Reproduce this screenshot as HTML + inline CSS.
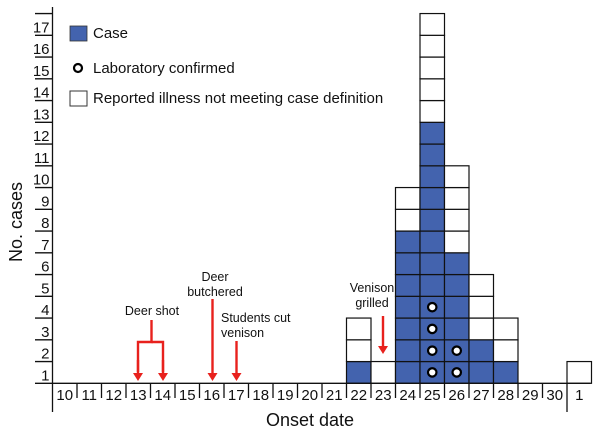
<!DOCTYPE html>
<html><head><meta charset="utf-8"><style>
body{margin:0;background:#fff}
svg{display:block;font-family:"Liberation Sans",sans-serif}
</style></head><body>
<svg id="c" width="600" height="437" viewBox="0 0 600 437"></svg>
<script>
const dates=["10","11","12","13","14","15","16","17","18","19","20","21","22","23","24","25","26","27","28","29","30","1"];
const caseCounts=[0,0,0,0,0,0,0,0,0,0,0,0,1,0,7,12,6,2,1,0,0,0];
const nonCaseCounts=[0,0,0,0,0,0,0,0,0,0,0,0,2,1,2,5,4,3,2,0,0,1];
const labConfirmed=[0,0,0,0,0,0,0,0,0,0,0,0,0,0,0,4,2,0,0,0,0,0];
const yTicks=[1,2,3,4,5,6,7,8,9,10,11,12,13,14,15,16,17];
const NS="http://www.w3.org/2000/svg";
const svg=document.getElementById('c');
const X0=52.5,CW=24.5,Y0=383.3,RH=21.75;
const x=i=>X0+CW*i;
const y=v=>Y0-RH*v;
function el(t,a,p){const e=document.createElementNS(NS,t);for(const k in a)e.setAttribute(k,a[k]);(p||svg).appendChild(e);return e;}
function txt(s,a){const e=el('text',a);e.textContent=s;return e;}
// bars
dates.forEach((d,i)=>{
  for(let r=0;r<caseCounts[i]+nonCaseCounts[i];r++){
    const isCase=r<caseCounts[i];
    const b=el('rect',{x:x(i),y:y(r+1),width:CW,height:RH,fill:isCase?'#4363ae':'#fff',stroke:'#111','stroke-width':1.2});
    
    
  }
  for(let r=0;r<labConfirmed[i];r++){
    const c=el('circle',{cx:x(i)+CW/2,cy:y(r+0.5),r:4.2,fill:'#fff',stroke:'#000','stroke-width':2.2});
    
    
  }
});
// axes
const ax=el('g',{stroke:'#111','stroke-width':1.3});


el('line',{x1:X0,y1:y(17.3),x2:X0,y2:412},ax);
el('line',{x1:35,y1:Y0,x2:x(22)-1,y2:Y0},ax);
dates.forEach((d,i)=>{ if(i>0) el('line',{x1:x(i),y1:Y0,x2:x(i),y2:i==21?412:398},ax);});
yTicks.forEach(v=>{
  el('line',{x1:35,y1:y(v),x2:X0,y2:y(v)},ax);
  const t=txt(String(v),{x:X0-3,y:y(v-1)-3,'font-size':15,'text-anchor':'end',fill:'#111'});
  
  
});
dates.forEach((d,i)=>{
  const t=txt(d,{x:x(i)+CW/2,y:400,'font-size':15,'text-anchor':'middle',fill:'#111'});
  
  
});
</script>
<script>
(function(){
const svg=document.getElementById('c'),NS="http://www.w3.org/2000/svg";
function el(t,a){const e=document.createElementNS(NS,t);for(const k in a)e.setAttribute(k,a[k]);svg.appendChild(e);return e;}
function txt(s,a,n){const e=el('text',a);e.textContent=s;return e;}
txt('Onset date',{x:310,y:426,'font-size':18,'text-anchor':'middle',fill:'#111'},'x-axis-title');
txt('No. cases',{x:0,y:0,'font-size':18,'text-anchor':'middle',fill:'#111',transform:'translate(22,222) rotate(-90)'},'y-axis-title');
// legend
let r=el('rect',{x:70,y:26,width:17,height:15,fill:'#4363ae',stroke:'#333','stroke-width':0.8});
txt('Case',{x:93,y:38,'font-size':15,fill:'#111'},'legend-case-label');
let c=el('circle',{cx:78,cy:68,r:4,fill:'#fff',stroke:'#000','stroke-width':2.2});
txt('Laboratory confirmed',{x:93,y:73,'font-size':15,fill:'#111'},'legend-lab-label');
r=el('rect',{x:70,y:91,width:17,height:15,fill:'#fff',stroke:'#333','stroke-width':1});
txt('Reported illness not meeting case definition',{x:93,y:103,'font-size':15,fill:'#111'},'legend-noncase-label');
// annotations
const red='#e8211d';
function arrow(x,y1,y2,n){const g=document.createElementNS(NS,'g');svg.appendChild(g);
 const l=document.createElementNS(NS,'line');[['x1',x],['y1',y1],['x2',x],['y2',y2-6],['stroke',red],['stroke-width',2.4]].forEach(a=>l.setAttribute(a[0],a[1]));g.appendChild(l);
 const p=document.createElementNS(NS,'polygon');p.setAttribute('points',`${x-5},${y2-8} ${x+5},${y2-8} ${x},${y2}`);p.setAttribute('fill',red);g.appendChild(p);}
let pl=el('polyline',{points:'151.5,320 151.5,342 138,342 138,372',fill:'none',stroke:red,'stroke-width':2.4});
pl=el('polyline',{points:'151.5,342 163,342 163,372',fill:'none',stroke:red,'stroke-width':2.4});
arrow(138,360,381,'deer-shot-arrow-13');
arrow(163,360,381,'deer-shot-arrow-14');
arrow(212.5,299,381,'deer-butchered-arrow');
arrow(236.5,341,381,'students-cut-arrow');
arrow(383,316,354,'venison-grilled-arrow');
txt('Deer shot',{x:152,y:315,'font-size':12.5,'text-anchor':'middle',fill:'#111'},'deer-shot-label');
txt('Deer',{x:215,y:281,'font-size':12.5,'text-anchor':'middle',fill:'#111'},'deer-butchered-label-1');
txt('butchered',{x:215,y:296,'font-size':12.5,'text-anchor':'middle',fill:'#111'},'deer-butchered-label-2');
txt('Students cut',{x:221,y:322,'font-size':12.5,fill:'#111'},'students-cut-label-1');
txt('venison',{x:221,y:337,'font-size':12.5,fill:'#111'},'students-cut-label-2');
txt('Venison',{x:372,y:292,'font-size':12.5,'text-anchor':'middle',fill:'#111'},'venison-grilled-label-1');
txt('grilled',{x:372,y:307,'font-size':12.5,'text-anchor':'middle',fill:'#111'},'venison-grilled-label-2');
})();
</script>
</body></html>
